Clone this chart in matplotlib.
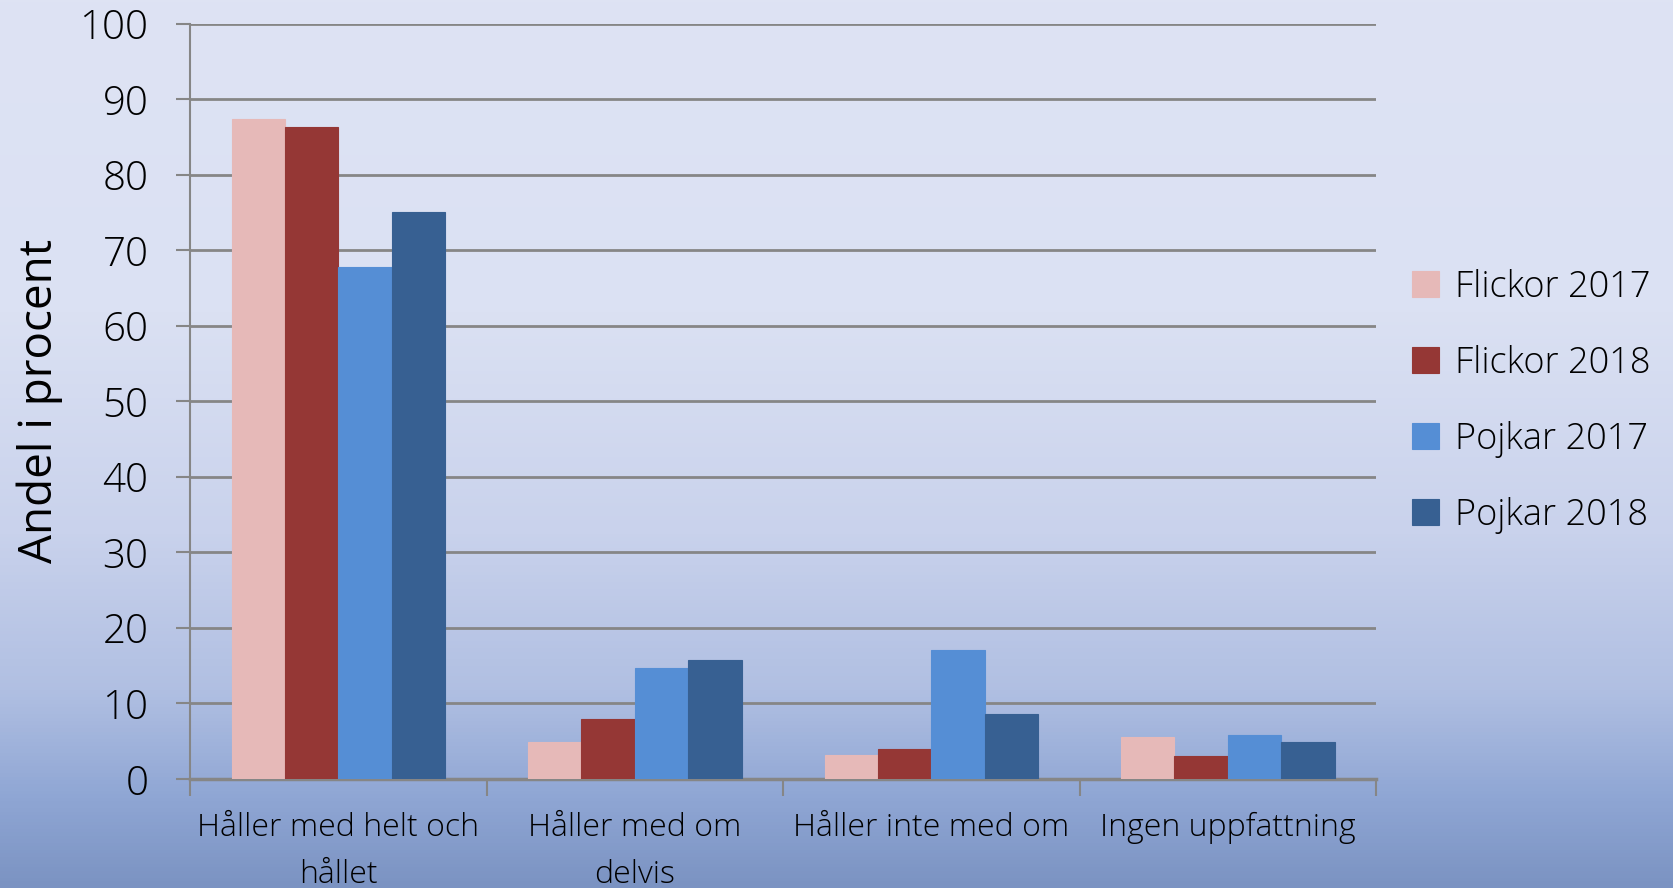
import numpy as np
import matplotlib.pyplot as plt
from matplotlib.colors import LinearSegmentedColormap

# --- data ---
categories = ["Håller med helt och\nhållet", "Håller med om\ndelvis",
              "Håller inte med om", "Ingen uppfattning"]
series_names = ["Flickor 2017", "Flickor 2018", "Pojkar 2017", "Pojkar 2018"]
flickor_2017 = [87.4, 4.9, 3.2, 5.5]
flickor_2018 = [86.3, 8.0, 4.0, 3.0]
pojkar_2017 = [67.8, 14.7, 17.1, 5.8]
pojkar_2018 = [75.0, 15.7, 8.6, 4.9]
colors = ["#e6b9b8", "#953735", "#558ed5", "#376092"]
yticks = list(range(0, 101, 10))

plt.rcParams['font.family'] = ['Open Sans', 'DejaVu Sans']
plt.rcParams['font.weight'] = 'light'

fig = plt.figure(figsize=(16.73, 8.88), dpi=100)

# sky-like gradient background
bg = fig.add_axes([0, 0, 1, 1], zorder=-1)
bg_cmap = LinearSegmentedColormap.from_list(
    "sky", [(0.0, "#dee3f3"), (0.35, "#dbe1f3"), (0.6, "#c9d2ec"),
            (0.78, "#b0bfe2"), (0.9, "#8fa6d4"), (1.0, "#7b93c2")])
grad = np.linspace(0, 1, 256).reshape(-1, 1)
bg.imshow(grad, aspect="auto", cmap=bg_cmap, extent=[0, 1, 0, 1], origin="upper")
bg.set_axis_off()

ax = fig.add_axes([0.1136, 0.1227, 0.7089, 0.8508])
ax.patch.set_alpha(0)

x = np.arange(len(categories))
w = 0.18
all_series = [flickor_2017, flickor_2018, pojkar_2017, pojkar_2018]
for i, (vals, name) in enumerate(zip(all_series, series_names)):
    ax.bar(x + (i - 1.5) * w, vals, width=w, color=colors[i], label=name,
           zorder=3, edgecolor=colors[i], linewidth=0.8)

ax.set_xlim(-0.5, len(categories) - 0.5)
ax.set_ylim(0, 100)
ax.set_yticks(yticks)
ax.yaxis.grid(True, color="#868686", linewidth=2, zorder=1)
ax.tick_params(axis="y", length=10, width=1.5, color="#868686",
               labelsize=29, pad=20)

# category labels centered, ticks at category boundaries
ax.set_xticks(x)
ax.set_xticklabels(categories, fontsize=23, linespacing=1.6)
ax.tick_params(axis="x", length=0, pad=24)
ax.set_xticks(np.arange(-0.5, len(categories)), minor=True)
ax.tick_params(axis="x", which="minor", length=12, width=1.5, color="#868686")

for s in ["top", "right"]:
    ax.spines[s].set_visible(False)
ax.spines["left"].set_color("#868686")
ax.spines["left"].set_linewidth(1.5)
ax.spines["bottom"].set_color("#868686")
ax.spines["bottom"].set_linewidth(2.5)

ax.set_ylabel("Andel i procent", fontsize=33, labelpad=12)

ax.legend(loc="center left", bbox_to_anchor=(1.003, 0.5), frameon=False,
          fontsize=26, handlelength=0.75, handleheight=0.75, labelspacing=1.08,
          handletextpad=0.45)

fig.savefig("out.png", dpi=100)
